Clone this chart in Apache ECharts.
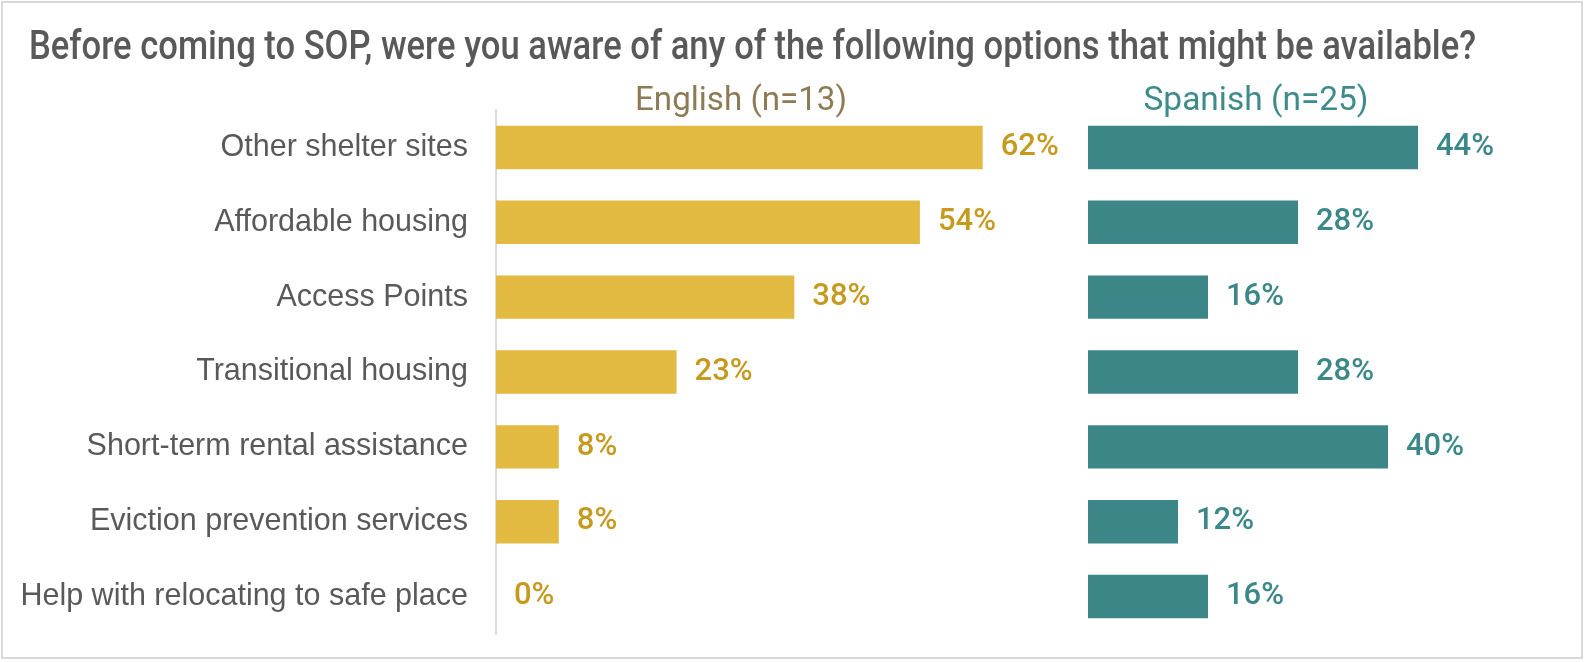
<!DOCTYPE html>
<html>
<head>
<meta charset="utf-8">
<script src="https://cdn.jsdelivr.net/npm/echarts@6/dist/echarts.min.js"></script>
<style>
  html, body { margin: 0; padding: 0; background: #ffffff; }
  #chart { width: 1585px; height: 662px; }
</style>
</head>
<body>
<div id="chart"></div>
<script>
// Survey: awareness of housing options before coming to SOP
const categories = [
  'Other shelter sites',
  'Affordable housing',
  'Access Points',
  'Transitional housing',
  'Short-term rental assistance',
  'Eviction prevention services',
  'Help with relocating to safe place'
];
const englishValues = [62, 54, 38, 23, 8, 8, 0];
const spanishValues = [44, 28, 16, 28, 40, 12, 16];
const groupHeaders = ['English (n=13)', 'Spanish (n=25)'];
const chartTitle = 'Before coming to SOP, were you aware of any of the following options that might be available?';

const textGray = '#595959';
const gold = '#E2B941';
const goldText = '#C69A1F';
const teal = '#3C8687';
const tealText = '#3C8888';

// Horizontal squeeze factor so a string in a given font fills a target width
// (gives the headings a condensed look with the installed fonts).
const measureCtx = document.createElement('canvas').getContext('2d');
function fitScale(text, font, targetWidth) {
  measureCtx.font = font;
  return targetWidth / measureCtx.measureText(text).width;
}

const titleFont = { weight: 500, size: 40, family: 'Roboto' };
const headerFont = { weight: 'normal', size: 33, family: 'Roboto' };
const fontStr = f => `${f.weight} ${f.size}px ${f.family}`;

const titleScale = fitScale(chartTitle, fontStr(titleFont), 1447);
const engScale = fitScale(groupHeaders[0], fontStr(headerFont), 212);
const spaScale = fitScale(groupHeaders[1], fontStr(headerFont), 225);

const chart = echarts.init(document.getElementById('chart'), null, { renderer: 'canvas' });

const gridTop = 110, gridHeight = 524;

function headingText(text, font, x, y, scale, color, align) {
  return {
    type: 'text', silent: true,
    x: x, y: y, scaleX: scale, scaleY: 1,
    style: {
      text: text, x: 0, y: 0,
      fontFamily: font.family, fontSize: font.size, fontWeight: font.weight,
      fill: color, align: align, verticalAlign: 'middle'
    }
  };
}

chart.setOption({
  backgroundColor: '#ffffff',
  animation: false,
  graphic: [
    {
      type: 'rect', silent: true, z: -1,
      shape: { x: 2, y: 2, width: 1580, height: 656 },
      style: { fill: 'none', stroke: '#d9d9d9', lineWidth: 2 }
    },
    headingText(chartTitle, titleFont, 29, 49, titleScale, textGray, 'left'),
    headingText(groupHeaders[0], headerFont, 741, 102, engScale, '#8C7B55', 'center'),
    headingText(groupHeaders[1], headerFont, 1256, 102, spaScale, '#3D8B8B', 'center')
  ],
  grid: [
    { left: 496, top: gridTop, width: 70 * 7.85, height: gridHeight, containLabel: false },
    { left: 1088, top: gridTop, width: 60 * 7.5, height: gridHeight, containLabel: false }
  ],
  xAxis: [
    { gridIndex: 0, type: 'value', min: 0, max: 70, show: false },
    { gridIndex: 1, type: 'value', min: 0, max: 60, show: false }
  ],
  yAxis: [
    {
      gridIndex: 0, type: 'category', data: categories, inverse: true,
      axisLine: { show: true, lineStyle: { color: '#d9d9d9', width: 2 } },
      axisTick: { show: false },
      axisLabel: { margin: 28, fontFamily: 'Liberation Sans', fontSize: 30.5, color: textGray }
    },
    {
      gridIndex: 1, type: 'category', data: categories, inverse: true,
      axisLine: { show: false }, axisTick: { show: false }, axisLabel: { show: false }
    }
  ],
  series: [
    {
      name: groupHeaders[0], type: 'bar', xAxisIndex: 0, yAxisIndex: 0,
      data: englishValues, barCategoryGap: '42%',
      itemStyle: { color: gold },
      label: {
        show: true, position: 'right', distance: 18, formatter: '{c}%',
        fontFamily: 'Roboto', fontWeight: 500, fontSize: 31, color: goldText
      }
    },
    {
      name: groupHeaders[1], type: 'bar', xAxisIndex: 1, yAxisIndex: 1,
      data: spanishValues, barCategoryGap: '42%',
      itemStyle: { color: teal },
      label: {
        show: true, position: 'right', distance: 18, formatter: '{c}%',
        fontFamily: 'Roboto', fontWeight: 500, fontSize: 31, color: tealText
      }
    }
  ]
});
</script>
</body>
</html>
